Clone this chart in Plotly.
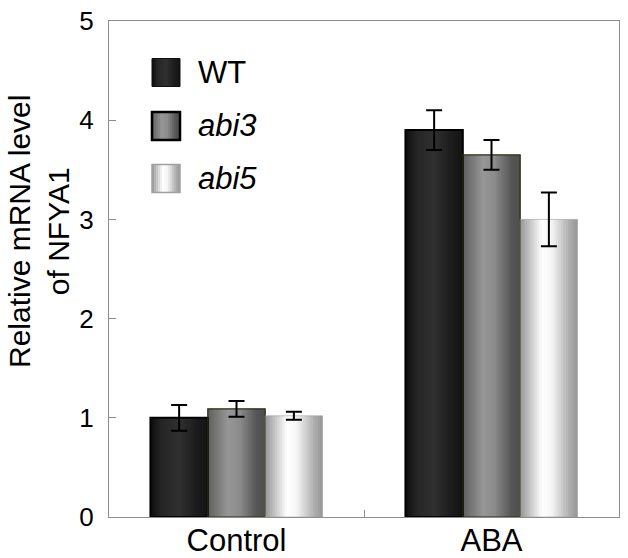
import plotly.graph_objects as go

categories = ["Control", "ABA"]
series_names = ["WT", "abi3", "abi5"]
wt_values = [1.00, 3.90]
wt_errors = [0.13, 0.20]
abi3_values = [1.09, 3.65]
abi3_errors = [0.08, 0.15]
abi5_values = [1.02, 3.00]
abi5_errors = [0.04, 0.27]
y_ticks = [0, 1, 2, 3, 4, 5]

values = [wt_values, abi3_values, abi5_values]
errors = [wt_errors, abi3_errors, abi5_errors]

# horizontal gradient profiles (position, grey level)
profiles = [
    [(0, 12), (0.2, 38), (0.5, 48), (0.8, 28), (1, 20)],
    [(0, 95), (0.35, 150), (0.55, 140), (0.85, 85), (1, 78)],
    [(0, 150), (0.38, 255), (0.55, 245), (0.85, 175), (1, 150)],
]
outline = ["#000000", "#2b2b10", "rgba(160,160,160,0.6)"]
outline_w = [2, 1.2, 1]


def grey(profile, t):
    for (a, ga), (b, gb) in zip(profile, profile[1:]):
        if a <= t <= b:
            g = ga + (gb - ga) * (t - a) / (b - a)
            g = int(round(g))
            return f"rgb({g},{g},{g})"
    g = profile[-1][1]
    return f"rgb({g},{g},{g})"


W = 0.225
N = 24
fig = go.Figure()
for i in range(3):
    start = -1.5 * W + i * W
    for k in range(N):
        t = (k + 0.5) / N
        w = W / N * (1.6 if k < N - 1 else 1.0)
        fig.add_trace(go.Bar(
            x=categories, y=values[i], offset=start + k * W / N, width=w,
            marker=dict(color=grey(profiles[i], t), line=dict(width=0)),
            showlegend=False, hoverinfo="skip"))
for i in range(3):
    start = -1.5 * W + i * W
    fig.add_trace(go.Bar(
        x=categories, y=values[i], offset=start, width=W, name=series_names[i],
        marker=dict(color="rgba(0,0,0,0)", line=dict(color=outline[i], width=outline_w[i])),
        error_y=dict(type="data", array=errors[i], color="black", thickness=2, width=8),
        showlegend=False))

PAGE_W, PAGE_H = 628, 558
L, R, T, B = 109, 619, 21, 517  # plot area in page pixels
def px(xp):
    return (xp - L) / (R - L)
def py(yp):
    return (B - yp) / (B - T)

leg_y = [72.5, 126, 178.5]
leg_labels = ["WT", "<i>abi3</i>", "<i>abi5</i>"]
leg_border = ["#111111", "#000000", "#a0a0a0"]
leg_bw = [1, 2.5, 1.5]
shapes = []
annotations = []
for i in range(3):
    x0, x1 = 152, 180
    y0, y1 = leg_y[i] - 14, leg_y[i] + 14
    M = 14
    for k in range(M):
        t = (k + 0.5) / M
        xa = x0 + (x1 - x0) * k / M
        xb = x0 + (x1 - x0) * (k + 1.3) / M if k < M - 1 else x1
        shapes.append(dict(type="rect", xref="paper", yref="paper",
                           x0=px(xa), x1=px(xb), y0=py(y1), y1=py(y0),
                           fillcolor=grey(profiles[i], t), line=dict(width=0), layer="above"))
    shapes.append(dict(type="rect", xref="paper", yref="paper",
                       x0=px(x0), x1=px(x1), y0=py(y1), y1=py(y0),
                       fillcolor="rgba(0,0,0,0)", line=dict(color=leg_border[i], width=leg_bw[i]), layer="above"))
    annotations.append(dict(xref="paper", yref="paper", x=px(196), y=py(leg_y[i]),
                            xanchor="left", yanchor="middle", text=leg_labels[i], showarrow=False,
                            font=dict(size=31, color="black", family="Liberation Sans, Arial")))

annotations.append(dict(xref="paper", yref="paper", x=px(39), y=py(232),
                        xanchor="center", yanchor="middle", textangle=-90, showarrow=False,
                        text="Relative mRNA level<br>of NFYA1",
                        font=dict(size=30, color="black", family="Liberation Sans, Arial")))

fig.update_layout(
    width=PAGE_W, height=PAGE_H, autosize=False,
    margin=dict(l=L, r=PAGE_W - R, t=T, b=PAGE_H - B),
    barmode="overlay",
    plot_bgcolor="white", paper_bgcolor="white",
    font=dict(family="Liberation Sans, Arial", color="black"),
    shapes=shapes, annotations=annotations,
    xaxis=dict(type="category", range=[-0.5, 1.5], showline=True, linecolor="#8c8c8c", linewidth=1,
               mirror=True, ticks="inside", ticklen=7, tickcolor="#8c8c8c", tickson="boundaries",
               showgrid=False, tickfont=dict(size=31), ticklabelstandoff=-4, automargin=False),
    yaxis=dict(range=[0, 5], tickvals=y_ticks, showline=True, linecolor="#8c8c8c", linewidth=1,
               mirror=True, ticks="inside", ticklen=7, tickcolor="#8c8c8c", showgrid=False,
               zeroline=False, tickfont=dict(size=26), ticklabelstandoff=9, automargin=False,
               ticklabeloverflow="allow"),
)

fig.write_html("out.html", post_script="document.body.style.margin='0';",
               config={"displayModeBar": False})
